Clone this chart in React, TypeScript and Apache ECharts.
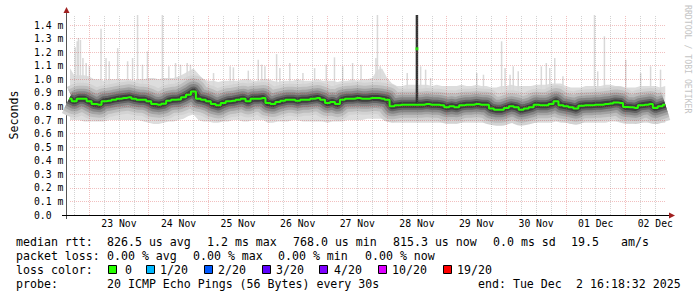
import React, { useEffect, useRef } from "react";
import * as echarts from "echarts";

// ---------- data (hours relative to 23 Nov 00:00, values in ms) ----------
const START_HOUR = -8;
const STEP_HOURS = 2;
const AXIS_MIN_HOUR = -7.7; // 22 Nov 16:18
const AXIS_MAX_HOUR = 232.3; // 02 Dec 16:18
const Y_MAX_MS = 1.474;

const medianMs = [
  0.857, 0.838, 0.857, 0.857, 0.838, 0.818, 0.813, 0.838, 0.842, 0.85, 0.857, 0.862, 0.867, 0.857, 0.85, 0.85,
  0.838, 0.818, 0.813, 0.82, 0.842, 0.85, 0.852, 0.867, 0.887, 0.911, 0.857, 0.85, 0.838, 0.818, 0.808,
  0.825, 0.838, 0.842, 0.85, 0.857, 0.838, 0.857, 0.857, 0.862, 0.825, 0.818, 0.833, 0.842, 0.85, 0.85,
  0.842, 0.85, 0.85, 0.857, 0.862, 0.85, 0.825, 0.833, 0.818, 0.85, 0.857, 0.857, 0.862, 0.857, 0.857,
  0.862, 0.862, 0.857, 0.85, 0.801, 0.808, 0.813, 0.813, 0.813, 0.813, 0.813, 0.818, 0.813, 0.813, 0.808,
  0.794, 0.801, 0.794, 0.808, 0.813, 0.813, 0.818, 0.813, 0.813, 0.784, 0.776, 0.776, 0.789, 0.801, 0.794,
  0.776, 0.784, 0.794, 0.813, 0.808, 0.808, 0.818, 0.838, 0.808, 0.801, 0.794, 0.784, 0.806, 0.808, 0.808,
  0.813, 0.813, 0.818, 0.822, 0.83, 0.825, 0.796, 0.794, 0.789, 0.808, 0.813, 0.818, 0.789, 0.801, 0.813,
];

const smokeTopMs = [
  1.09, 1.03, 1.03, 1.03, 1.02, 1.0, 1.0, 0.99, 1.0, 1.0, 1.0, 1.0, 1.0, 0.99, 1.0, 1.0,
  1.01, 1.01, 1.0, 1.01, 1.01, 1.01, 1.02, 1.04, 1.06, 1.08, 1.04, 1.0, 0.99, 0.99, 0.98,
  0.99, 0.99, 0.99, 0.99, 1.0, 1.0, 0.99, 0.99, 1.0, 1.0, 0.99, 0.98, 0.99, 0.99, 0.99,
  1.0, 0.99, 0.99, 0.99, 1.0, 0.99, 0.99, 0.99, 0.98, 0.99, 0.99, 1.0, 0.99, 1.0, 1.0,
  1.01, 1.07, 1.08, 1.01, 0.97, 0.95, 0.95, 0.96, 0.96, 0.96, 0.96, 0.96, 0.95, 0.96, 0.95,
  0.95, 0.95, 0.95, 0.96, 0.95, 0.95, 0.96, 0.95, 0.95, 0.94, 0.94, 0.95, 0.95, 0.96, 0.95,
  0.95, 0.95, 0.95, 0.96, 0.96, 0.96, 0.97, 0.97, 0.97, 0.95, 0.94, 0.94, 0.94, 0.95, 0.95,
  0.95, 0.95, 0.96, 0.96, 0.95, 0.95, 0.94, 0.94, 0.94, 0.95, 0.95, 0.95, 0.95, 0.94, 0.95,
];

const smokeBottomMs = [
  0.7, 0.7, 0.7, 0.69, 0.69, 0.69, 0.69, 0.69, 0.7, 0.7, 0.7, 0.7, 0.7, 0.7, 0.7, 0.69,
  0.68, 0.67, 0.67, 0.68, 0.69, 0.69, 0.7, 0.71, 0.73, 0.74, 0.7, 0.69, 0.69, 0.68, 0.68,
  0.69, 0.69, 0.7, 0.7, 0.69, 0.69, 0.7, 0.7, 0.7, 0.68, 0.68, 0.69, 0.69, 0.69,
  0.7, 0.7, 0.69, 0.69, 0.69, 0.69, 0.69, 0.68, 0.69, 0.69, 0.69, 0.7, 0.7, 0.7, 0.7,
  0.71, 0.71, 0.71, 0.71, 0.7, 0.68, 0.68, 0.68, 0.68, 0.68, 0.68, 0.68, 0.68, 0.68, 0.68,
  0.68, 0.67, 0.67, 0.67, 0.68, 0.68, 0.68, 0.68, 0.68, 0.68, 0.67, 0.67, 0.67, 0.68, 0.68,
  0.67, 0.67, 0.67, 0.68, 0.68, 0.68, 0.68, 0.68, 0.69, 0.68, 0.68, 0.67, 0.67, 0.68, 0.68,
  0.68, 0.68, 0.68, 0.68, 0.69, 0.69, 0.68, 0.67, 0.67, 0.68, 0.68, 0.68, 0.68, 0.67, 0.68, 0.68,
];

// isolated high pings (max of the 20 pings), hour and value
const spikeHours = [
  -5.6, -4.8, -4.3, -3.5, -2.5, -1.2, 0.1, 4.8, 6.8, 8.1, 11.5, 15.5, 17.5, 19.5, 21.5, 23.5, 29.5, 32.1, 34.8,
  36.8, 39.5, 40.8, 50.1, 56.8, 58.1, 64.1, 68.1, 69.5, 70.8, 75.5, 76.8, 80.8, 86.1, 90.8, 95.5, 98.8, 102.1,
  106.1, 109.5, 115.5, 116.1, 117.2, 128.1, 133.5, 135.5, 137.5, 156.1, 158.8, 166.1, 167.5, 169.5, 170.8,
  172.8, 182.1, 184.1, 185.5, 187.5, 190.8, 203.5, 204.8, 207.5, 216.1, 222.1, 226.1, 230.1,
];
const spikeTopMs = [
  1.236, 1.28, 1.304, 1.29, 1.157, 1.12, 1.096, 1.373, 1.157, 1.133, 1.23, 1.133, 1.157, 1.474, 1.108, 1.206,
  1.474, 1.096, 1.12, 1.108, 1.12, 1.108, 1.046, 1.096, 1.088, 1.064, 1.145, 1.108, 1.096, 1.186, 1.083, 1.12,
  1.046, 1.083, 1.108, 1.162, 1.096, 1.12, 1.108, 1.157, 1.474, 1.096, 1.046, 1.096, 1.071, 1.01, 1.046,
  1.034, 1.28, 1.083, 1.034, 1.096, 1.059, 1.096, 1.12, 1.083, 1.157, 1.022, 1.474, 1.059, 1.317, 1.145,
  1.046, 1.096, 1.071,
];

// the 28 Nov outlier interval
const outlierHours = [132];
const outlierLowMs = [0.81];
const outlierHighMs = [1.474];
const outlierMedianMs = [1.225];

const dayLabelHours = [12, 36, 60, 84, 108, 132, 156, 180, 204, 228];
const dayLabels = ["23 Nov", "24 Nov", "25 Nov", "26 Nov", "27 Nov", "28 Nov", "29 Nov", "30 Nov", "01 Dec", "02 Dec"];
const majorGridHours = [0, 24, 48, 72, 96, 120, 144, 168, 192, 216];
const yGridMs = [0.1, 0.2, 0.3, 0.4, 0.5, 0.6, 0.7, 0.8, 0.9, 1.0, 1.1, 1.2, 1.3, 1.4];

const rttStats = ["826.5 us avg", "1.2 ms max", "768.0 us min", "815.3 us now", "0.0 ms sd", "19.5", "am/s"];
const lossStats = ["0.00 % avg", "0.00 % max", "0.00 % min", "0.00 % now"];
const lossLabels = ["0", "1/20", "2/20", "3/20", "4/20", "10/20", "19/20"];
const lossColors = ["#26ff00", "#00b8ff", "#0059ff", "#5e00ff", "#7e00ff", "#dd00ff", "#ff0000"];
const probeText = "20 ICMP Echo Pings (56 Bytes) every 30s";
const endText = ["end: Tue Dec", "2 16:18:32 2025"];

// ---------- layout ----------
const MONO = '"DejaVu Sans Mono", "Liberation Mono", monospace';
const LEG = 11.6;
const rttX = [107, 207, 293, 393, 493, 571, 621];
const lossX = [107, 193, 278, 365];
const boxX = [108, 146, 204, 262, 319, 378, 443];
const boxLabelX = [125, 160, 218, 276, 334, 392, 457];
const rowY = [241.5, 255.5, 269.5, 283.5];

const hours = medianMs.map((_, i) => START_HOUR + i * STEP_HOURS);
const medianData = hours.map((h, i) => [h, medianMs[i]]);

const minorGridHours: number[] = [];
for (let h = -6; h <= 228; h += 6) if (h % 24 !== 0) minorGridHours.push(h);

function txt(text: string, x: number, y: number, extra: any = {}) {
  return {
    type: "text",
    x,
    y,
    silent: true,
    style: {
      text,
      fill: "#000",
      font: `${LEG}px ${MONO}`,
      align: "left",
      verticalAlign: "middle",
      textAlign: "left",
      textVerticalAlign: "middle",
      ...extra,
    },
  };
}

export default function App() {
  const ref = useRef<HTMLDivElement>(null);

  useEffect(() => {
    if (!ref.current) return;
    const chart = echarts.init(ref.current, undefined, { renderer: "svg" });

    const thick = (width: number, color: string, z: number) => ({
      type: "line",
      data: medianData,
      showSymbol: false,
      symbol: "none",
      silent: true,
      z,
      clip: true,
      lineStyle: { width, color, cap: "butt", join: "round" },
    });

    const graphics: any[] = [];
    graphics.push(txt("median rtt:", 16, rowY[0]));
    rttStats.forEach((s, i) => graphics.push(txt(s, rttX[i], rowY[0])));
    graphics.push(txt("packet loss:", 16, rowY[1]));
    lossStats.forEach((s, i) => graphics.push(txt(s, lossX[i], rowY[1])));
    graphics.push(txt("loss color:", 16, rowY[2]));
    lossLabels.forEach((s, i) => {
      graphics.push({
        type: "rect",
        silent: true,
        shape: { x: boxX[i] + 0.5, y: rowY[2] - 4, width: 8, height: 8 },
        style: { fill: lossColors[i], stroke: "#000", lineWidth: 1 },
      });
      graphics.push(txt(s, boxLabelX[i], rowY[2]));
    });
    graphics.push(txt("probe:", 16, rowY[3]));
    graphics.push(txt(probeText, 107, rowY[3]));
    graphics.push(txt(endText[0], 478, rowY[3]));
    graphics.push(txt(endText[1], 576, rowY[3]));
    graphics.push({
      type: "text",
      x: 688,
      y: 5,
      rotation: -Math.PI / 2,
      silent: true,
      style: {
        text: "RRDTOOL / TOBI OETIKER",
        fill: "#c4c4c4",
        font: `8.2px ${MONO}`,
        align: "left",
        verticalAlign: "middle",
        textAlign: "left",
        textVerticalAlign: "middle",
      },
    });
    graphics.push({ type: "line", silent: true, shape: { x1: 66.5, y1: 12, x2: 66.5, y2: 219 }, style: { stroke: "#555", lineWidth: 1 } });
    graphics.push({ type: "line", silent: true, shape: { x1: 62, y1: 215.5, x2: 670, y2: 215.5 }, style: { stroke: "#000", lineWidth: 1 } });
    graphics.push({ type: "polygon", silent: true, shape: { points: [[66.5, 7], [63.5, 13], [69.5, 13]] }, style: { fill: "#a02020" } });
    graphics.push({ type: "polygon", silent: true, shape: { points: [[675, 215.5], [669, 212.5], [669, 218.5]] }, style: { fill: "#a02020" } });

    const majorStyle = { color: "rgba(210,60,60,0.32)", width: 1, type: [1, 1] };
    const minorStyle = { color: "rgba(110,110,110,0.30)", width: 1, type: [1, 1] };

    const option: any = {
      animation: false,
      backgroundColor: "#ffffff",
      grid: { left: 66, right: 31, top: 15, bottom: 82, containLabel: false },
      xAxis: {
        type: "value",
        min: AXIS_MIN_HOUR,
        max: AXIS_MAX_HOUR,
        axisLine: { show: false, onZero: false },
        axisTick: { show: false },
        splitLine: { show: false },
        axisLabel: {
          show: true,
          customValues: dayLabelHours,
          margin: 3,
          color: "#000",
          fontFamily: MONO,
          fontSize: 9.75,
          formatter: (v: number) => {
            const k = dayLabelHours.indexOf(Math.round(v));
            return k >= 0 ? dayLabels[k] : "";
          },
        },
      },
      yAxis: {
        type: "value",
        min: 0,
        max: Y_MAX_MS,
        interval: 0.1,
        name: "Seconds",
        nameLocation: "middle",
        nameRotate: 90,
        nameGap: 50,
        nameTextStyle: { color: "#000", fontFamily: MONO, fontSize: LEG },
        axisLine: { show: false, onZero: false },
        axisTick: { show: false },
        splitLine: { show: false },
        axisLabel: {
          showMaxLabel: false,
          align: "left",
          margin: 36,
          color: "#000",
          fontFamily: MONO,
          fontSize: 9.75,
          formatter: (v: number) => (Math.abs(v) < 1e-9 ? "0.0" : v.toFixed(1) + " m"),
        },
      },
      graphic: { elements: graphics },
      series: [
        {
          type: "custom",
          name: "smoke outer",
          silent: true,
          z: 1,
          clip: true,
          data: [[0, 0]],
          renderItem: (_p: any, api: any) => {
            const pts: number[][] = [];
            for (let i = 0; i < hours.length; i++) pts.push(api.coord([hours[i], smokeTopMs[i]]));
            for (let i = hours.length - 1; i >= 0; i--) pts.push(api.coord([hours[i], smokeBottomMs[i]]));
            return { type: "polygon", shape: { points: pts }, style: { fill: "#dddddd" } };
          },
        },
        {
          type: "custom",
          name: "spikes",
          silent: true,
          z: 1,
          clip: true,
          data: spikeHours.map((h, i) => [h, spikeTopMs[i]]),
          renderItem: (_p: any, api: any) => {
            const top = api.coord([api.value(0), api.value(1)]);
            const base = api.coord([api.value(0), 0.9]);
            return {
              type: "rect",
              shape: { x: top[0] - 0.75, y: top[1], width: 1.5, height: base[1] - top[1] },
              style: { fill: "#d9d9d9" },
            };
          },
        },
        thick(32, "#d2d2d2", 2),
        thick(26, "#bdbdbd", 2),
        thick(20, "#a3a3a3", 2),
        thick(15, "#868686", 2),
        thick(10, "#636363", 2),
        thick(6, "#3e3e3e", 2),
        {
          type: "custom",
          name: "outlier",
          silent: true,
          z: 3,
          data: outlierHours.map((h, i) => [h, outlierLowMs[i], outlierHighMs[i]]),
          renderItem: (_p: any, api: any) => {
            const lo = api.coord([api.value(0), api.value(1)]);
            const hi = api.coord([api.value(0), api.value(2)]);
            return {
              type: "rect",
              shape: { x: lo[0] - 1.25, y: hi[1], width: 2.5, height: lo[1] - hi[1] },
              style: { fill: "#333333" },
            };
          },
        },
        {
          type: "line",
          name: "grid",
          data: [],
          silent: true,
          z: 5,
          markLine: {
            silent: true,
            symbol: ["none", "none"],
            label: { show: false },
            animation: false,
            data: [
              ...minorGridHours.map((h) => ({ xAxis: h, lineStyle: minorStyle })),
              ...majorGridHours.map((h) => ({ xAxis: h, lineStyle: majorStyle })),
              ...yGridMs.map((v) => ({ yAxis: v, lineStyle: majorStyle })),
            ],
          },
        },
        {
          type: "line",
          name: "median rtt",
          data: medianData,
          showSymbol: false,
          symbol: "none",
          silent: true,
          step: "middle",
          z: 6,
          clip: true,
          lineStyle: { width: 2, color: "#26ff00" },
        },
        {
          type: "scatter",
          name: "outlier median",
          data: outlierHours.map((h, i) => [h, outlierMedianMs[i]]),
          symbol: "rect",
          symbolSize: [3, 3],
          silent: true,
          z: 7,
          itemStyle: { color: "#26ff00" },
        },
      ],
    };

    chart.setOption(option);
    return () => chart.dispose();
  }, []);

  return <div ref={ref} style={{ position: "fixed", left: 0, top: 0, width: 697, height: 297 }} />;
}
